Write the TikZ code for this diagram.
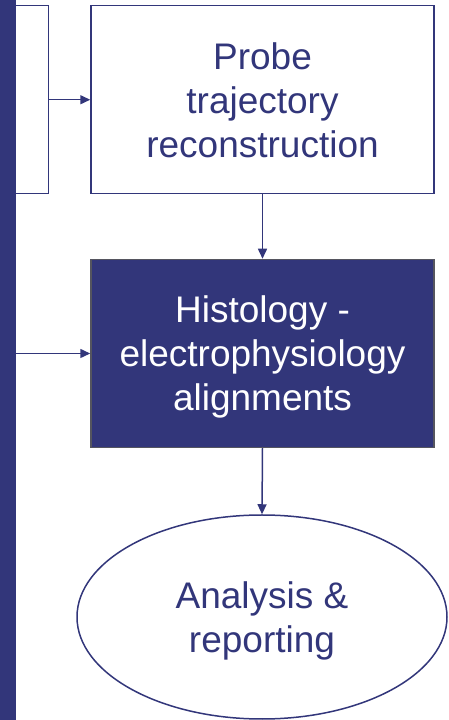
\documentclass[tikz,border=0pt]{standalone}
\usepackage{fontspec}
\setmainfont{Liberation Sans}
\usetikzlibrary{shapes,arrows.meta,positioning}
\definecolor{deepblue}{RGB}{50,54,122}
\definecolor{edgegray}{RGB}{85,85,95}

\begin{document}
\begin{tikzpicture}[x=1pt, y=1pt,
    stage/.style={draw=deepblue, line width=1.5pt, minimum width=343pt, minimum height=188pt, inner sep=0pt, align=center, font=\fontsize{37}{44}\selectfont, text=deepblue, text depth=0pt},
    arrow/.style={-{Triangle[length=10pt,width=9pt]}, line width=1.5pt, draw=deepblue}
]
    \useasboundingbox (0,0) rectangle (448,720);
    \node[stage, minimum width=59pt] (prev) at (19,620.25) {};
    \node[stage] (probe) at (262.5,620.25) {Probe\\trajectory\\reconstruction};
    \node[stage, draw=edgegray, fill=deepblue, text=white] (hist) at (262.5,366.5) {Histology -\\electrophysiology\\alignments};
    \node[stage, ellipse, minimum width=370pt, minimum height=204pt] (report) at (262,103) {Analysis \&\\reporting};
    \node[fill=deepblue, minimum width=16pt, minimum height=720pt, inner sep=0pt] (bar) at (8,360) {};
    \draw[arrow] (prev.east) -- (probe.west);
    \draw[arrow] (bar.east |- hist.west) -- (hist.west);
    \draw[arrow] (probe.south) -- (hist.north);
    \draw[arrow] (hist.south) -- (report.north);
\end{tikzpicture}
\end{document}
